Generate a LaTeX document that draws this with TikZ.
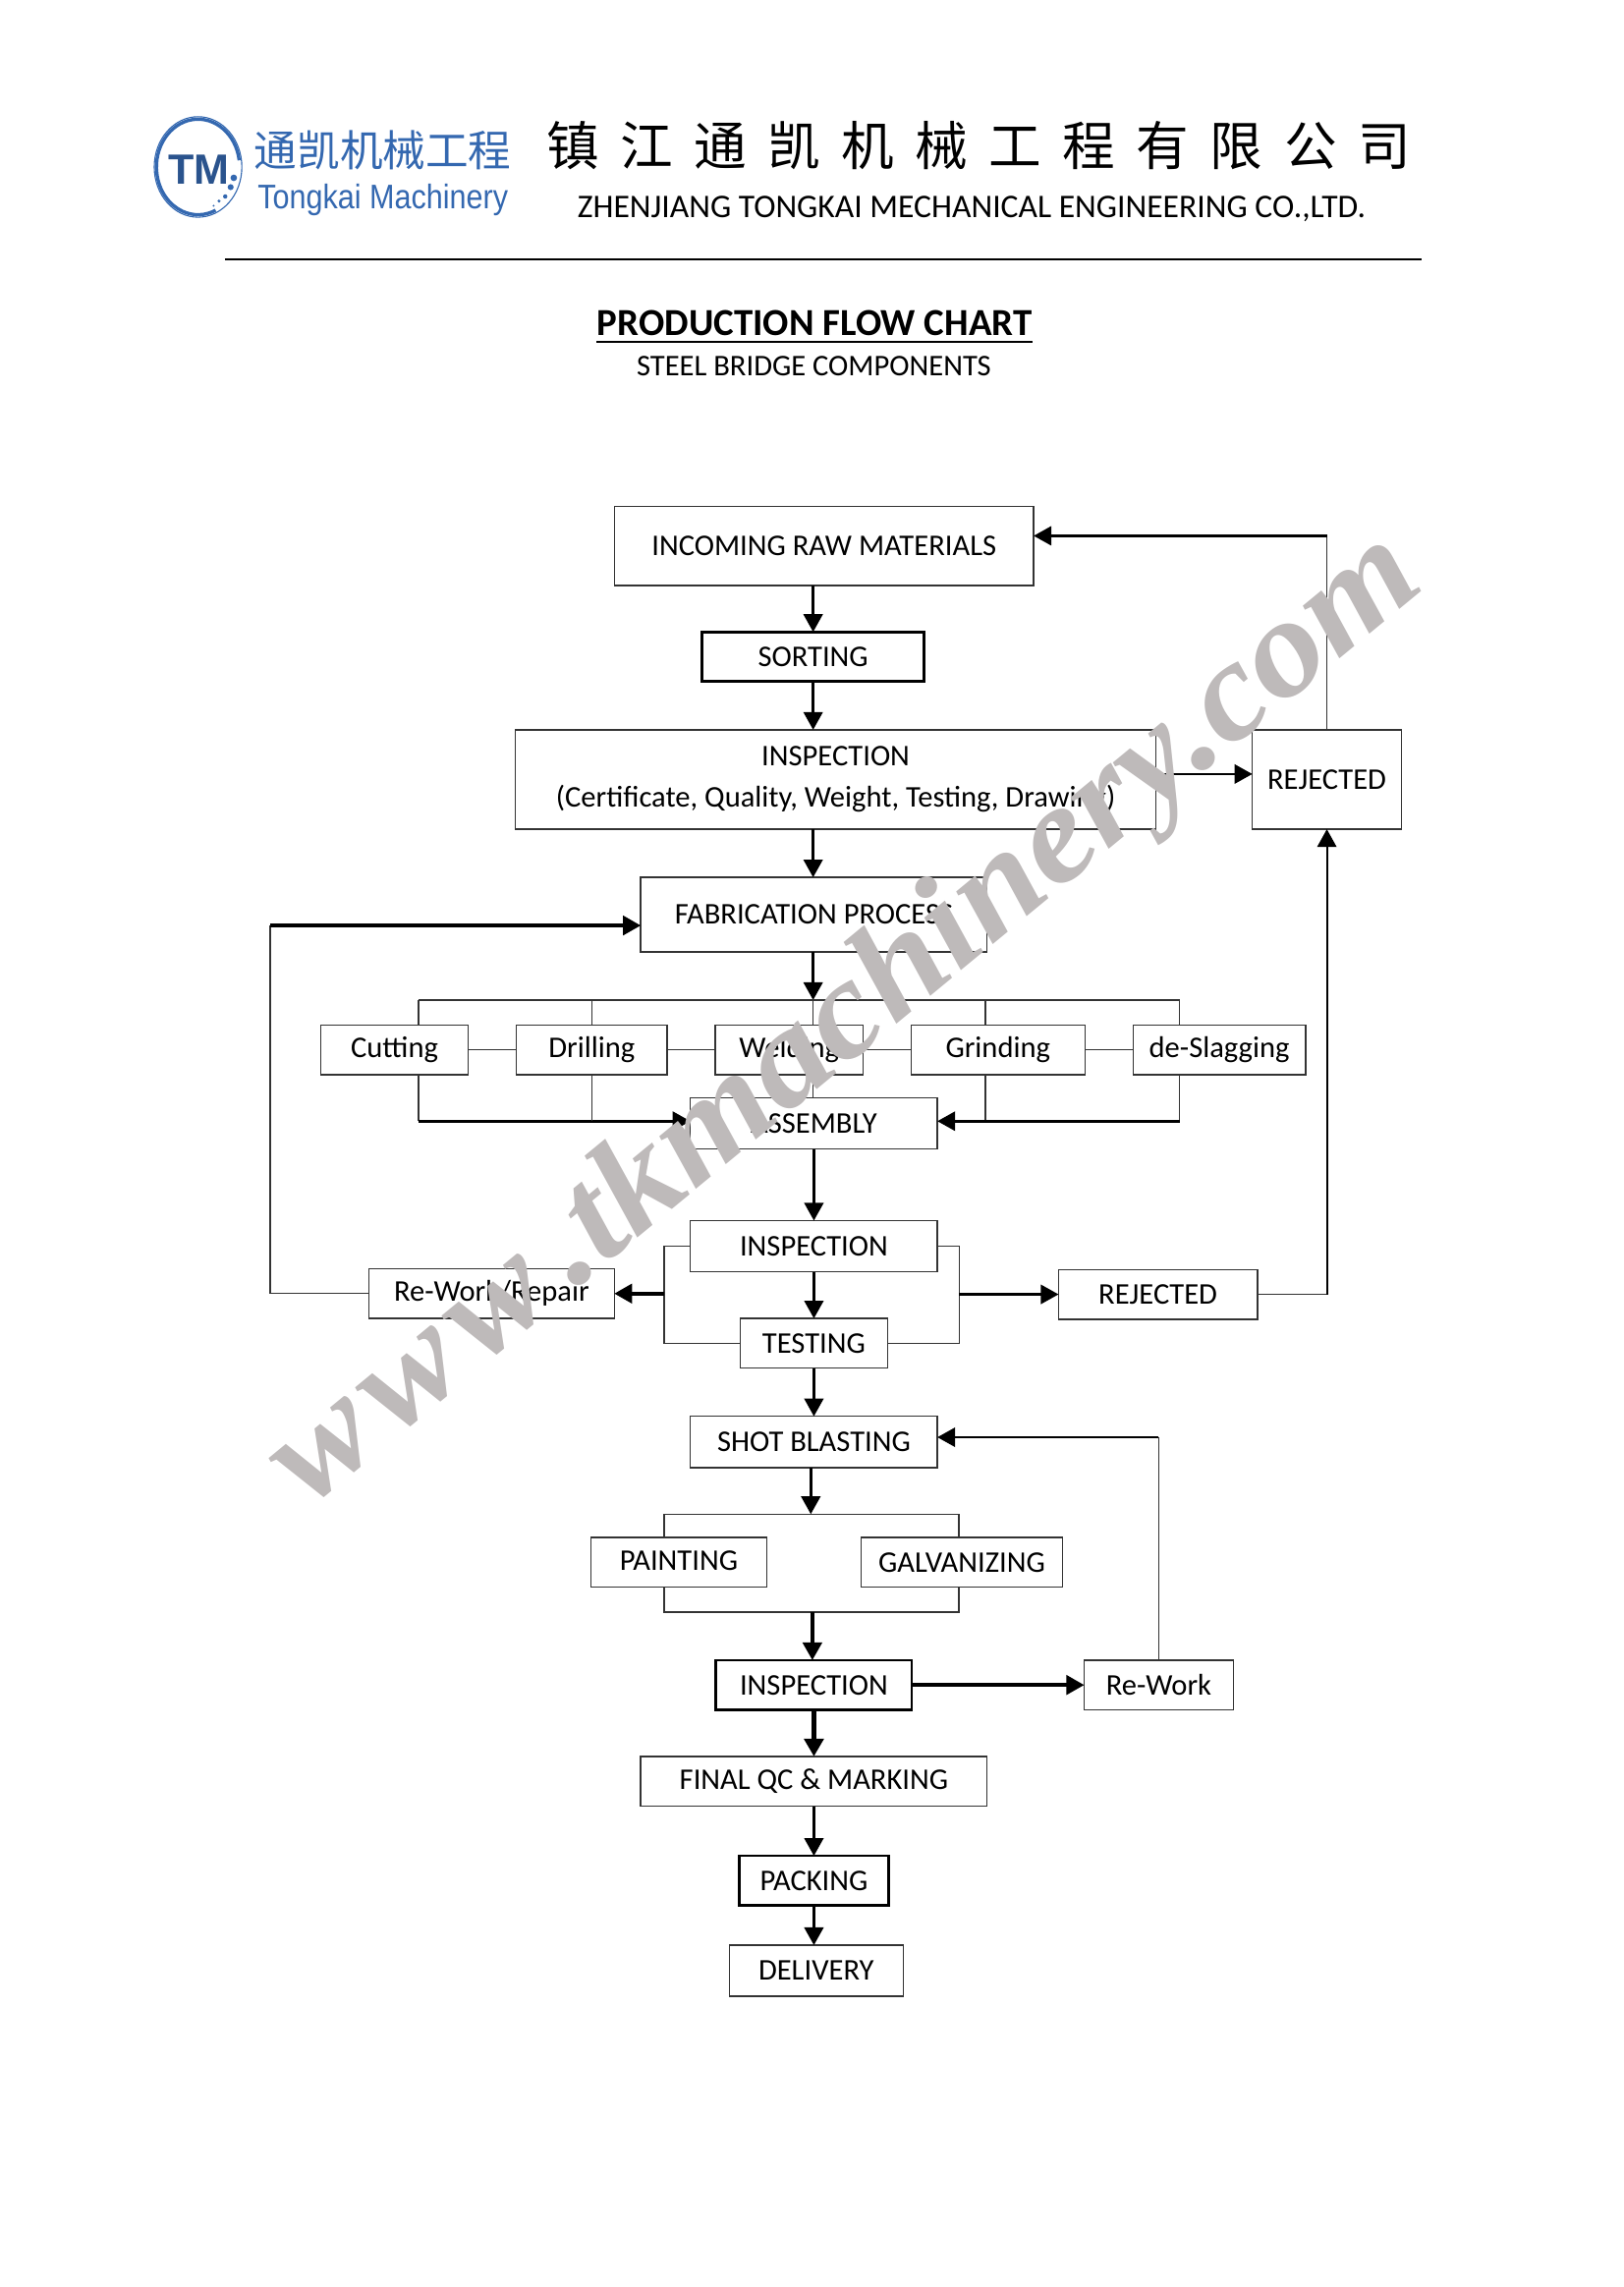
\documentclass[tikz,border=0pt]{standalone}
\usepackage{fontspec}
\usepackage{xcolor}
\usepackage{tikz}
\usetikzlibrary{arrows.meta, positioning}
\setmainfont{Carlito}
\newfontfamily\cjkfont{Noto Sans CJK SC}
\newfontfamily\cjkspaced[LetterSpace=40]{Noto Sans CJK SC}
\newfontfamily\logofont{Liberation Sans}
\newfontfamily\markfont{Liberation Serif}
\definecolor{logoblue}{RGB}{52,104,176}
\definecolor{markgray}{RGB}{190,186,186}

\begin{document}
\begin{tikzpicture}[
        node distance=0.6cm,
        block/.style={rectangle, draw=black!80, line width=0.5pt, inner sep=0pt, outer sep=0pt, align=center, font=\fontsize{11}{15}\selectfont, minimum height=0.64cm},
        strong/.style={block, draw=black, line width=1pt},
        link/.style={draw=black!80, line width=0.5pt},
        arrow/.style={-{Triangle[length=6.5pt,width=7pt]}, line width=0.9pt},
        heavy/.style={arrow, line width=1.3pt}
    ]
    \useasboundingbox (0,0) rectangle (20.91,-29.45);

    % letterhead
    \coordinate (ring) at (2.55,-2.15);
    \draw[logoblue, line width=0.4pt] (ring) ellipse [x radius=0.564cm, y radius=0.647cm];
    \draw[logoblue, line width=1.2pt] (ring) ++(8:0.535cm and 0.615cm) arc [start angle=8, end angle=295, x radius=0.535cm, y radius=0.615cm];
    \foreach \dotx/\doty/\dotr in {3.01/-2.29/1.2pt, 2.97/-2.41/1.1pt, 2.90/-2.53/0.8pt, 2.82/-2.59/0.6pt, 2.75/-2.65/0.4pt}
        \fill[logoblue] (\dotx,\doty) circle (\dotr);
    \node (tm) [font=\logofont\bfseries\fontsize{15.5}{15.5}\selectfont, text=logoblue!80!black, inner sep=0pt] at (2.56,-2.19) {TM};
    \node (logocn) [font=\cjkfont\fontsize{15.7}{16}\selectfont, text=logoblue, inner sep=0pt] at (4.93,-1.94) {通凯机械工程};
    \node (logoen) [font=\logofont\fontsize{12.5}{13}\selectfont, text=logoblue, inner sep=0pt] at (4.93,-2.57) {\scalebox{0.88}[1]{Tongkai Machinery}};
    \node (company) [font=\cjkspaced\fontsize{19.3}{20}\selectfont, inner sep=0pt] at (12.6,-1.88) {镇江通凯机械工程有限公司};
    \node (companyen) [font=\fontsize{12.1}{14}\selectfont, inner sep=0pt] at (12.51,-2.69) {ZHENJIANG TONGKAI MECHANICAL ENGINEERING CO.,LTD.};
    \coordinate (ruleleft) at (2.895,-3.34);
    \coordinate (ruleright) at (18.31,-3.34);
    \draw[line width=1pt] (ruleleft) -- (ruleright);
    \node (title) [font=\bfseries\fontsize{14}{16}\selectfont, inner xsep=0pt, inner ysep=2.2pt] at (10.49,-4.155) {PRODUCTION FLOW CHART};
    \draw[line width=1pt] (title.south west) -- (title.south east);
    \node (subtitle) [font=\fontsize{11}{14}\selectfont, inner sep=0pt] at (10.48,-4.72) {STEEL BRIDGE COMPONENTS};

    % main column
    \node (incoming) [block, minimum width=5.40cm, minimum height=1.015cm] at (10.61,-7.03) {INCOMING RAW MATERIALS};
    \node (sorting) [strong, minimum width=2.86cm, below=0.60cm of incoming, xshift=-0.14cm] {SORTING};
    \node (inspcert) [block, minimum width=8.25cm, minimum height=1.28cm, below=0.62cm of sorting, xshift=0.29cm] {INSPECTION\\(Certificate, Quality, Weight, Testing, Drawing)};
    \node (rejcert) [block, minimum width=1.92cm, minimum height=1.28cm, right=1.24cm of inspcert] {REJECTED};
    \node (fabric) [block, minimum width=4.46cm, minimum height=0.96cm, below=0.62cm of inspcert, xshift=-0.28cm] {FABRICATION PROCESS};

    % fabrication row
    \node (welding) [block, minimum width=1.90cm, below=0.94cm of fabric, xshift=-0.32cm] {\raisebox{-1.5pt}{Welding}};
    \node (drilling) [block, minimum width=1.94cm, left=0.62cm of welding] {\raisebox{1.5pt}{Drilling}};
    \node (cutting) [block, minimum width=1.90cm, left=0.62cm of drilling] {\raisebox{1.5pt}{Cutting}};
    \node (grinding) [block, minimum width=2.24cm, right=0.62cm of welding] {\raisebox{1.5pt}{Grinding}};
    \node (slagging) [block, minimum width=2.22cm, right=0.62cm of grinding] {\raisebox{-1.5pt}{de-Slagging}};

    \node (assembly) [block, minimum width=3.18cm, minimum height=0.66cm, below=0.30cm of welding, xshift=0.32cm] {ASSEMBLY};
    \node (inspweld) [block, minimum width=3.18cm, minimum height=0.66cm, below=0.92cm of assembly] {INSPECTION};
    \node (testing) [block, minimum width=1.90cm, below=0.60cm of inspweld] {TESTING};
    \node (repair) [block, minimum width=3.16cm, left=0.98cm of inspweld, yshift=-0.61cm] {Re-Work/Repair};
    \node (rejweld) [block, minimum width=2.56cm, right=1.56cm of inspweld, yshift=-0.62cm] {REJECTED};
    \node (blasting) [block, minimum width=3.18cm, minimum height=0.66cm, below=0.62cm of testing] {SHOT BLASTING};

    \node (painting) [block, minimum width=2.26cm, below=0.90cm of blasting, xshift=-1.74cm] {\raisebox{1pt}{PAINTING}};
    \node (galvan) [block, minimum width=2.59cm, right=1.22cm of painting] {GALVANIZING};
    \node (inspfinal) [strong, minimum width=2.52cm, below=2.48cm of blasting] {INSPECTION};
    \node (rework) [block, minimum width=1.92cm, right=2.22cm of inspfinal] {Re-Work};
    \node (finalqc) [block, minimum width=4.46cm, below=0.60cm of inspfinal] {FINAL QC \& MARKING};
    \node (packing) [strong, minimum width=1.92cm, below=0.64cm of finalqc] {PACKING};
    \node (delivery) [block, minimum width=2.24cm, minimum height=0.66cm, below=0.51cm of packing, xshift=0.03cm] {DELIVERY};

    % bus lines
    \coordinate[above=0.32cm of cutting, xshift=0.31cm] (cutbus);
    \coordinate[above=0.32cm of drilling] (drillbus);
    \coordinate[above=0.32cm of grinding, xshift=-0.16cm] (grindbus);
    \coordinate[above=0.32cm of slagging, xshift=-0.51cm] (slagbus);
    \coordinate[below=0.62cm of fabric] (fabbus);
    \coordinate[left=0.34cm of inspweld.west] (leftloop);
    \coordinate[right=0.28cm of inspweld.east] (rightloop);
    \coordinate[below=0.60cm of blasting, xshift=-0.04cm] (coatbus);
    \coordinate[above=0.62cm of inspfinal, xshift=-0.02cm] (coatjoin);
    \coordinate (pintop) at ([xshift=-0.19cm]painting.north);
    \coordinate (galvtop) at ([xshift=-0.04cm]galvan.north);
    \coordinate (rawin) at ([yshift=0.13cm]incoming.east);
    \coordinate (fabin) at ([yshift=-0.14cm]fabric.west);
    \coordinate (blastin) at ([yshift=0.06cm]blasting.east);
    \coordinate (asmleft) at ([yshift=0.03cm]assembly.west);
    \coordinate (asmright) at ([yshift=0.03cm]assembly.east);
    \coordinate (farleft) at (3.48,-16.6);

    \draw[arrow] (sorting |- incoming.south) -- (sorting);
    \draw[arrow] (sorting) -- (sorting |- inspcert.north);
    \draw[arrow] (sorting |- inspcert.south) -- (sorting |- fabric.north);
    \draw[arrow] ([yshift=0.07cm]inspcert.east) -- ([yshift=0.07cm]rejcert.west);
    \draw[link] (rejcert.north) -- (rejcert.north |- rawin);
    \draw[arrow] (rejcert.north |- rawin) -- (rawin);
    \draw[arrow] (sorting |- fabric.south) -- (sorting |- fabbus);

    \draw[link] (cutbus) -- (slagbus);
    \draw[link] (cutbus) -- (cutbus |- cutting.north);
    \draw[link] (drillbus) -- (drilling);
    \draw[link] (sorting |- fabbus) -- (sorting |- welding.north);
    \draw[link] (grindbus) -- (grindbus |- grinding.north);
    \draw[link] (slagbus) -- (slagbus |- slagging.north);
    \draw[link] (cutting) -- (drilling);
    \draw[link] (drilling) -- (welding);
    \draw[link] (welding) -- (grinding);
    \draw[link] (grinding) -- (slagging);
    \draw[link] (sorting |- welding.south) -- (sorting |- assembly.north);

    \draw[link] (cutbus |- cutting.south) -- (cutbus |- asmleft);
    \draw[arrow] (cutbus |- asmleft) -- (asmleft);
    \draw[link] (drillbus |- drilling.south) -- (drillbus |- asmleft);
    \draw[link] (grindbus |- grinding.south) -- (grindbus |- asmright);
    \draw[link] (slagbus |- slagging.south) -- (slagbus |- asmright);
    \draw[arrow] (slagbus |- asmright) -- (asmright);

    \draw[arrow] (assembly) -- (inspweld);
    \draw[arrow] (inspweld) -- (testing);
    \draw[link] (inspweld.west) -- (leftloop) |- (testing.west);
    \draw[link] (inspweld.east) -- (rightloop) |- (testing.east);
    \draw[heavy] (leftloop |- repair) -- (repair);
    \draw[arrow] (rightloop |- rejweld) -- (rejweld);
    \draw[link] (repair) -- (repair -| farleft) -- (farleft |- fabin);
    \draw[heavy] (farleft |- fabin) -- (fabin);
    \draw[link] (rejweld) -- (rejweld -| rejcert);
    \draw[arrow, line width=0.7pt] (rejweld -| rejcert) -- (rejcert);

    \draw[arrow] (testing) -- (blasting);
    \draw[arrow] (coatbus |- blasting.south) -- (coatbus);
    \draw[link] (pintop) |- (galvtop |- coatbus) -- (galvtop);
    \draw[link] (pintop |- painting.south) |- (galvtop |- coatjoin) -- (galvtop |- galvan.south);
    \draw[heavy] (coatjoin) -- (coatjoin |- inspfinal.north);
    \draw[heavy] (inspfinal) -- (rework);
    \draw[link] (rework.north) -- (rework.north |- blastin);
    \draw[arrow] (rework.north |- blastin) -- (blastin);
    \draw[arrow, line width=2pt] (inspfinal) -- (finalqc);
    \draw[arrow] (finalqc) -- (packing);
    \draw[arrow] (packing) -- (packing |- delivery.north);

    % watermark
    \node (watermark) [font=\markfont\bfseries\itshape\fontsize{51}{52}\selectfont, text=markgray, rotate=39.5, inner sep=0pt] at (10.91,-13.16) {\scalebox{1.08}[1]{w\kern4pt w\kern4pt w\kern7pt.tkmachinery.com}};
\end{tikzpicture}
\end{document}
